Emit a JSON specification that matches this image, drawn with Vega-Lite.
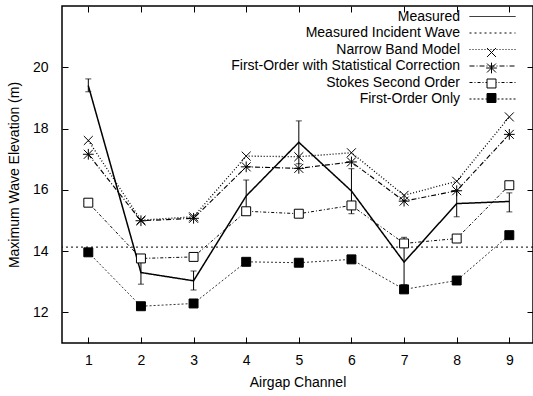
{
  "$schema": "https://vega.github.io/schema/vega-lite/v6.json",
  "width": 471,
  "height": 337,
  "autosize": "none",
  "padding": {"left": 62, "top": 6, "right": 0, "bottom": 53},
  "background": "white",
  "config": {
    "font": "Liberation Sans",
    "view": {"stroke": "black", "strokeWidth": 1.5},
    "axis": {
      "grid": false,
      "domain": false,
      "tickSize": -6,
      "tickColor": "black",
      "tickWidth": 1,
      "labelFontSize": 14,
      "labelColor": "black",
      "titleFontSize": 14,
      "titleFontWeight": "normal",
      "titleColor": "black"
    }
  },
  "data": {
    "values": [
      {"series": "Measured", "channel": 1, "value": 19.4, "lo": 19.2, "hi": 19.62},
      {"series": "Measured", "channel": 2, "value": 13.3, "lo": 12.92, "hi": 13.7},
      {"series": "Measured", "channel": 3, "value": 13.03, "lo": 12.73, "hi": 13.35},
      {"series": "Measured", "channel": 4, "value": 15.8, "lo": 15.3, "hi": 16.32},
      {"series": "Measured", "channel": 5, "value": 17.55, "lo": 16.85, "hi": 18.25},
      {"series": "Measured", "channel": 6, "value": 15.96, "lo": 15.22, "hi": 16.69},
      {"series": "Measured", "channel": 7, "value": 13.64, "lo": 12.9, "hi": 14.45},
      {"series": "Measured", "channel": 8, "value": 15.55, "lo": 15.12, "hi": 15.96},
      {"series": "Measured", "channel": 9, "value": 15.62, "lo": 15.28, "hi": 15.9},
      {"series": "Measured Incident Wave", "value": 14.13},
      {"series": "Narrow Band Model", "channel": 1, "value": 17.61},
      {"series": "Narrow Band Model", "channel": 2, "value": 15.01},
      {"series": "Narrow Band Model", "channel": 3, "value": 15.12},
      {"series": "Narrow Band Model", "channel": 4, "value": 17.1},
      {"series": "Narrow Band Model", "channel": 5, "value": 17.08},
      {"series": "Narrow Band Model", "channel": 6, "value": 17.21},
      {"series": "Narrow Band Model", "channel": 7, "value": 15.82},
      {"series": "Narrow Band Model", "channel": 8, "value": 16.28},
      {"series": "Narrow Band Model", "channel": 9, "value": 18.38},
      {"series": "First-Order with Statistical Correction", "channel": 1, "value": 17.16},
      {"series": "First-Order with Statistical Correction", "channel": 2, "value": 14.99},
      {"series": "First-Order with Statistical Correction", "channel": 3, "value": 15.07},
      {"series": "First-Order with Statistical Correction", "channel": 4, "value": 16.75},
      {"series": "First-Order with Statistical Correction", "channel": 5, "value": 16.7},
      {"series": "First-Order with Statistical Correction", "channel": 6, "value": 16.91},
      {"series": "First-Order with Statistical Correction", "channel": 7, "value": 15.63},
      {"series": "First-Order with Statistical Correction", "channel": 8, "value": 15.97},
      {"series": "First-Order with Statistical Correction", "channel": 9, "value": 17.81},
      {"series": "Stokes Second Order", "channel": 1, "value": 15.58},
      {"series": "Stokes Second Order", "channel": 2, "value": 13.76},
      {"series": "Stokes Second Order", "channel": 3, "value": 13.81},
      {"series": "Stokes Second Order", "channel": 4, "value": 15.3},
      {"series": "Stokes Second Order", "channel": 5, "value": 15.22},
      {"series": "Stokes Second Order", "channel": 6, "value": 15.49},
      {"series": "Stokes Second Order", "channel": 7, "value": 14.25},
      {"series": "Stokes Second Order", "channel": 8, "value": 14.41},
      {"series": "Stokes Second Order", "channel": 9, "value": 16.15},
      {"series": "First-Order Only", "channel": 1, "value": 13.96},
      {"series": "First-Order Only", "channel": 2, "value": 12.2},
      {"series": "First-Order Only", "channel": 3, "value": 12.29},
      {"series": "First-Order Only", "channel": 4, "value": 13.65},
      {"series": "First-Order Only", "channel": 5, "value": 13.62},
      {"series": "First-Order Only", "channel": 6, "value": 13.73},
      {"series": "First-Order Only", "channel": 7, "value": 12.75},
      {"series": "First-Order Only", "channel": 8, "value": 13.04},
      {"series": "First-Order Only", "channel": 9, "value": 14.52}
    ]
  },
  "resolve": {"axis": {"x": "independent", "y": "independent"}},
  "layer": [
    {
      "transform": [{"filter": "datum.series == 'Measured Incident Wave'"}],
      "mark": {"type": "rule", "color": "black", "strokeWidth": 1},
      "encoding": {
        "y": {
          "field": "value", "type": "quantitative",
          "scale": {"domain": [11, 22], "nice": false, "zero": false},
          "axis": {"orient": "left", "values": [12, 14, 16, 18, 20], "title": "Maximum Wave Elevation (m)", "labelPadding": 20, "titlePadding": 11}
        },
        "strokeDash": {
          "field": "series", "type": "nominal",
          "scale": {
            "domain": ["Measured", "Measured Incident Wave", "Narrow Band Model", "First-Order with Statistical Correction", "Stokes Second Order", "First-Order Only"],
            "range": [[1, 0], [2, 3], [1, 2], [5, 2, 1, 2], [3, 2, 1, 2], [2, 2]]
          },
          "legend": {
            "title": null,
            "orient": "none",
            "legendX": 422,
            "legendY": 2,
            "labelAlign": "right",
            "labelOffset": -41,
            "labelFontSize": 14,
            "labelColor": "black",
            "labelLimit": 400,
            "symbolType": "M-2.875,0H2.875",
            "symbolSize": 256,
            "symbolStrokeColor": "black",
            "symbolStrokeWidth": 1,
            "rowPadding": 0.5
          }
        }
      }
    },
    {
      "transform": [{"filter": "datum.series != 'Measured Incident Wave'"}],
      "mark": {"type": "line", "color": "black"},
      "encoding": {
        "x": {
          "field": "channel", "type": "quantitative",
          "scale": {"domain": [0.5, 9.45], "nice": false, "zero": false},
          "axis": {"orient": "bottom", "values": [1, 2, 3, 4, 5, 6, 7, 8, 9], "title": "Airgap Channel", "labelPadding": 16, "titlePadding": 8}
        },
        "y": {"field": "value", "type": "quantitative", "axis": null},
        "strokeDash": {"field": "series", "type": "nominal"},
        "strokeWidth": {
          "field": "series", "type": "nominal", "legend": null,
          "scale": {"domain": ["Measured", "Narrow Band Model", "First-Order with Statistical Correction", "Stokes Second Order", "First-Order Only"], "range": [1.5, 0.8, 1, 1, 1]}
        }
      }
    },
    {
      "transform": [{"filter": "datum.series == 'Measured'"}],
      "mark": {"type": "rule", "color": "black", "strokeWidth": 1},
      "encoding": {
        "x": {"field": "channel", "type": "quantitative", "axis": null},
        "y": {"field": "lo", "type": "quantitative", "axis": null},
        "y2": {"field": "hi"}
      }
    },
    {
      "transform": [{"filter": "datum.series == 'Measured'"}],
      "mark": {"type": "tick", "orient": "horizontal", "color": "black", "size": 6, "thickness": 1},
      "encoding": {
        "x": {"field": "channel", "type": "quantitative", "axis": null},
        "y": {"field": "lo", "type": "quantitative", "axis": null}
      }
    },
    {
      "transform": [{"filter": "datum.series == 'Measured'"}],
      "mark": {"type": "tick", "orient": "horizontal", "color": "black", "size": 6, "thickness": 1},
      "encoding": {
        "x": {"field": "channel", "type": "quantitative", "axis": null},
        "y": {"field": "hi", "type": "quantitative", "axis": null}
      }
    },
    {
      "transform": [{"filter": "datum.series != 'Measured' && datum.series != 'Measured Incident Wave'"}],
      "mark": {"type": "point", "stroke": "black", "strokeWidth": 1, "opacity": 1, "size": 80},
      "encoding": {
        "x": {"field": "channel", "type": "quantitative", "axis": null},
        "y": {"field": "value", "type": "quantitative", "axis": null},
        "shape": {
          "field": "series", "type": "nominal",
          "scale": {"domain": ["Narrow Band Model", "First-Order with Statistical Correction", "Stokes Second Order", "First-Order Only"],
                    "range": ["M-1,-1L1,1M-1,1L1,-1", "M-1,-1L1,1M-1,1L1,-1M0,-1.2V1.2M-1.2,0H1.2", "square", "square"]},
          "legend": {
            "title": null,
            "orient": "none",
            "legendX": 422.5,
            "legendY": 39.5,
            "labelExpr": "' '",
            "labelFontSize": 14,
            "labelOffset": 2,
            "symbolSize": 80,
            "symbolStrokeWidth": 1,
            "rowPadding": 0.5
          }
        },
        "fill": {
          "field": "series", "type": "nominal",
          "scale": {"domain": ["Narrow Band Model", "First-Order with Statistical Correction", "Stokes Second Order", "First-Order Only"],
                    "range": ["transparent", "transparent", "white", "black"]},
          "legend": {
            "title": null,
            "orient": "none",
            "legendX": 422.5,
            "legendY": 39.5,
            "labelExpr": "' '",
            "labelFontSize": 14,
            "labelOffset": 2,
            "symbolSize": 80,
            "symbolStrokeWidth": 1,
            "rowPadding": 0.5
          }
        }
      }
    },
    {
      "mark": {"type": "point", "opacity": 0},
      "encoding": {
        "x": {"field": "channel", "type": "quantitative", "axis": {"orient": "top", "values": [1, 2, 3, 4, 5, 6, 7, 8, 9], "labels": false, "title": null}},
        "y": {"field": "value", "type": "quantitative", "axis": {"orient": "right", "values": [12, 14, 16, 18, 20], "labels": false, "title": null}}
      }
    }
  ]
}
